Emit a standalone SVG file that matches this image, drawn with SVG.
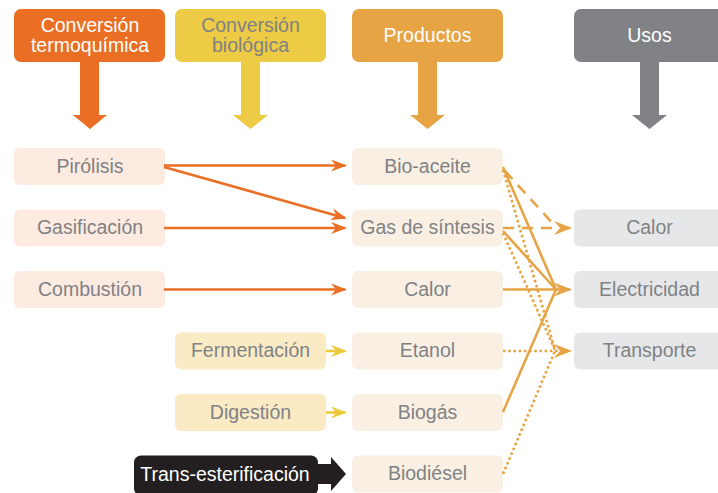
<svg xmlns="http://www.w3.org/2000/svg" width="718" height="493" viewBox="0 0 718 493">
<style>
text{font-family:"Liberation Sans",Arial,sans-serif;font-size:19.5px;text-anchor:middle;fill:#808285}
.w{fill:#ffffff}
.termo{fill:#EA6F24}
.bio{fill:#EDCB44}
.prod{fill:#E6A445}
.usos{fill:#818286}
.bT{fill:#FDEAE0}
.bB{fill:#FAEBC5}
.bP{fill:#F9F0E3}
.bU{fill:#E6E7E9}
.lo{stroke:#EA6F24;stroke-width:2.6;fill:none}
.ly{stroke:#EDC93F;stroke-width:2.6;fill:none}
.lg{stroke:#E6A445;stroke-width:2.6;fill:none}
.dash{stroke-dasharray:11 8}
.dot{stroke-dasharray:2.6 2.6}
</style>
<defs>
<marker id="mo" markerUnits="userSpaceOnUse" viewBox="0 0 16 12" refX="14" refY="6" markerWidth="16" markerHeight="12" orient="auto"><path d="M0,0 L16,6 L0,12 L5,6 Z" fill="#EA6F24"/></marker>
<marker id="my" markerUnits="userSpaceOnUse" viewBox="0 0 16 12" refX="14" refY="6" markerWidth="16" markerHeight="12" orient="auto"><path d="M0,0 L16,6 L0,12 L5,6 Z" fill="#EDC93F"/></marker>
<marker id="mg" markerUnits="userSpaceOnUse" viewBox="0 0 18 14" refX="16" refY="7" markerWidth="18" markerHeight="14" orient="auto"><path d="M0,0 L18,7 L0,14 L6,7 Z" fill="#E6A445"/></marker>
</defs>

<g id="h-termo">
<rect x="14" y="9" width="151" height="53" rx="7" class="termo"/>
<path d="M80,61 H99 V115 H107 L90,129 L73,115 H80 Z" class="termo"/>
<text x="90" y="32" class="w">Conversión</text>
<text x="90" y="52" class="w">termoquímica</text>
</g>
<g id="h-bio">
<rect x="175" y="9" width="151" height="53" rx="7" class="bio"/>
<path d="M241,61 H260 V115 H268 L250.5,129 L233,115 H241 Z" class="bio"/>
<text x="250.5" y="32">Conversión</text>
<text x="250.5" y="52">biológica</text>
</g>
<g id="h-prod">
<rect x="352" y="9" width="151" height="53" rx="7" class="prod"/>
<path d="M418,61 H437 V115 H445 L427.5,129 L410,115 H418 Z" class="prod"/>
<text x="427.5" y="42" class="w">Productos</text>
</g>
<g id="h-usos">
<rect x="574" y="9" width="151" height="53" rx="7" class="usos"/>
<path d="M640,61 H659 V115 H667 L649.5,129 L632,115 H640 Z" class="usos"/>
<text x="649.5" y="42" class="w">Usos</text>
</g>

<g id="pirolisis"><rect x="14" y="148" width="151" height="37" rx="6" class="bT"/><text x="90" y="172.5">Pirólisis</text></g>
<g id="gasificacion"><rect x="14" y="209.5" width="151" height="37" rx="6" class="bT"/><text x="90" y="234">Gasificación</text></g>
<g id="combustion"><rect x="14" y="271" width="151" height="37" rx="6" class="bT"/><text x="90" y="295.5">Combustión</text></g>
<g id="fermentacion"><rect x="175" y="332.5" width="151" height="37" rx="6" class="bB"/><text x="250.5" y="357">Fermentación</text></g>
<g id="digestion"><rect x="175" y="394" width="151" height="37" rx="6" class="bB"/><text x="250.5" y="418.5">Digestión</text></g>
<g id="transesterificacion">
<rect x="134" y="455.5" width="184" height="40" rx="7" fill="#231F20"/>
<path d="M312,464 H331 V457 L346,474 L331,491 V484 H312 Z" fill="#231F20"/>
<text x="225" y="480.5" class="w">Trans-esterificación</text>
</g>

<g id="bioaceite"><rect x="352" y="148" width="151" height="37" rx="6" class="bP"/><text x="427.5" y="172.5">Bio-aceite</text></g>
<g id="gassintesis"><rect x="352" y="209.5" width="151" height="37" rx="6" class="bP"/><text x="427.5" y="234">Gas de síntesis</text></g>
<g id="calor-p"><rect x="352" y="271" width="151" height="37" rx="6" class="bP"/><text x="427.5" y="295.5">Calor</text></g>
<g id="etanol"><rect x="352" y="332.5" width="151" height="37" rx="6" class="bP"/><text x="427.5" y="357">Etanol</text></g>
<g id="biogas"><rect x="352" y="394" width="151" height="37" rx="6" class="bP"/><text x="427.5" y="418.5">Biogás</text></g>
<g id="biodiesel"><rect x="352" y="455.5" width="151" height="37" rx="6" class="bP"/><text x="427.5" y="480">Biodiésel</text></g>

<g id="calor-u"><rect x="574" y="209.5" width="151" height="37" rx="6" class="bU"/><text x="649.5" y="234">Calor</text></g>
<g id="electricidad"><rect x="574" y="271" width="151" height="37" rx="6" class="bU"/><text x="649.5" y="295.5">Electricidad</text></g>
<g id="transporte"><rect x="574" y="332.5" width="151" height="37" rx="6" class="bU"/><text x="649.5" y="357">Transporte</text></g>

<g id="connectors">
<line x1="164" y1="165.5" x2="345" y2="165.5" class="lo" marker-end="url(#mo)"/>
<line x1="164" y1="167" x2="345" y2="218" class="lo" marker-end="url(#mo)"/>
<line x1="164" y1="228" x2="345" y2="228" class="lo" marker-end="url(#mo)"/>
<line x1="164" y1="289.5" x2="345" y2="289.5" class="lo" marker-end="url(#mo)"/>
<line x1="326" y1="351" x2="345" y2="351" class="ly" marker-end="url(#my)"/>
<line x1="326" y1="412.5" x2="345" y2="412.5" class="ly" marker-end="url(#my)"/>

<line x1="503" y1="289.5" x2="570" y2="289.5" class="lg" marker-end="url(#mg)"/>
<polyline points="503,167 556,289.5" class="lg"/>
<polyline points="503,231 556,289.5" class="lg"/>
<polyline points="503,412 556,289.5" class="lg"/>

<line x1="503" y1="228" x2="570" y2="228" class="lg dash" marker-end="url(#mg)"/>
<line x1="505" y1="171" x2="556" y2="227" class="lg dash"/>

<line x1="503" y1="351" x2="570" y2="351" class="lg dot" marker-end="url(#mg)"/>
<line x1="503" y1="170" x2="555" y2="350" class="lg dot"/>
<line x1="503" y1="233" x2="555" y2="350" class="lg dot"/>
<line x1="503" y1="474" x2="555" y2="351" class="lg dot"/>
</g>
</svg>
